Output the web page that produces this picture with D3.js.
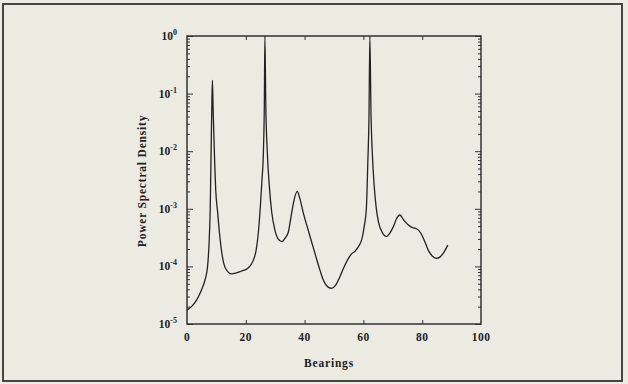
<!DOCTYPE html>
<html>
<head>
<meta charset="utf-8">
<style>
  html, body { margin: 0; padding: 0; background: #ecebe1; }
  svg { display: block; }
  text { font-family: "Liberation Serif", "DejaVu Serif", serif; font-weight: bold; fill: #222; }
</style>
</head>
<body>
<div id="container"></div>
<script src="https://cdn.jsdelivr.net/npm/d3@7"></script>
<script>
    // Data
    let bearings = [
        0, 1.5, 3.3, 5, 6.1, 7.0, 7.5, 7.9, 8.2, 8.45, 8.65, 8.9, 9.3, 9.8, 10.4, 11.0, 11.8, 13, 15.2, 18,
        20.9, 22.5, 23.5, 24.3, 24.9, 25.5, 26.0, 26.3, 26.5, 26.8, 27.3, 28.0, 28.8, 29.8, 31, 32.2, 33.5, 34.5, 35.5, 36.2,
        37.5, 38.4, 39.6, 40.7, 41.5, 43.5, 45.2, 46.4, 48, 49.2, 50.5, 52, 53.5, 54.9, 56, 57.1, 58.5, 59.4, 60.3, 61.0,
        61.5, 61.9, 62.2, 62.6, 63.0, 63.6, 64.4, 65.1, 66.5, 67.9, 69, 70.2, 71.3, 72.4, 73.8, 75.3, 76.7, 78.1, 79.5, 80.5,
        82.1, 83.5, 84.9, 86, 87.2, 88.7
    ];
    let psd = [
        1.74e-5, 2.0e-5, 2.63e-5, 3.98e-5, 5.75e-5, 1.0e-4, 2.5e-4, 1.0e-3, 0.01, 0.063, 0.17, 0.05, 0.01, 2.0e-3, 8.9e-4, 4.0e-4, 1.78e-4, 9.5e-5, 7.4e-5, 8.1e-5,
        9.5e-5, 1.26e-4, 1.9e-4, 4.0e-4, 1.0e-3, 3.16e-3, 0.01, 0.063, 1, 0.063, 0.01, 2.5e-3, 8.9e-4, 4.5e-4, 3.0e-4, 2.7e-4, 3.16e-4, 4.0e-4, 7.9e-4, 1.26e-3,
        2.0e-3, 1.5e-3, 8.3e-4, 5.25e-4, 3.8e-4, 1.7e-4, 8.7e-5, 5.75e-5, 4.37e-5, 4.17e-5, 4.68e-5, 6.6e-5, 1.0e-4, 1.38e-4, 1.66e-4, 1.82e-4, 2.29e-4, 2.88e-4, 5.0e-4, 1.0e-3,
        6.3e-3, 0.04, 1, 0.04, 0.01, 2.8e-3, 1.0e-3, 6.0e-4, 3.8e-4, 3.3e-4, 3.8e-4, 4.9e-4, 6.8e-4, 7.8e-4, 6.3e-4, 5.25e-4, 4.7e-4, 4.5e-4, 3.8e-4, 3.0e-4,
        1.9e-4, 1.5e-4, 1.38e-4, 1.45e-4, 1.7e-4, 2.34e-4
    ];
    let xTicks = [0, 20, 40, 60, 80, 100];
    let yExponents = [0, -1, -2, -3, -4, -5];

    // Set up SVG
    let W = 628, H = 384;
    let margin = { top: 36, right: 147, bottom: 60, left: 187 };
    let width = W - margin.left - margin.right;
    let height = H - margin.top - margin.bottom;

    let root = d3.select("#container")
        .append("svg")
        .attr("width", W)
        .attr("height", H);

    // outer frame
    root.append("rect")
        .attr("x", 3).attr("y", 4)
        .attr("width", 619).attr("height", 377)
        .attr("fill", "none")
        .attr("stroke", "#333")
        .attr("stroke-width", 1.8);

    let svg = root.append("g")
        .attr("transform", `translate(${margin.left}, ${margin.top})`);

    let x = d3.scaleLinear().domain([0, 100]).range([0, width]);
    let y = d3.scaleLog().domain([1e-5, 1]).range([height, 0]);

    // minor / major log ticks
    let allY = y.ticks();
    let majorY = yExponents.map((e) => Math.pow(10, e));
    let minorY = allY.filter((v) => !majorY.some((m) => Math.abs(m - v) / v < 1e-6));

    function styleAxis(g) {
        g.select(".domain").remove();
        g.selectAll("line").attr("stroke", "#333").attr("stroke-width", 1);
        g.selectAll("text").remove();
    }

    svg.append("g").call(d3.axisLeft(y).tickValues(minorY).tickSize(-3)).call(styleAxis);
    svg.append("g").call(d3.axisLeft(y).tickValues(majorY).tickSize(-6)).call(styleAxis);
    svg.append("g").attr("transform", `translate(${width},0)`)
        .call(d3.axisRight(y).tickValues(minorY).tickSize(-3)).call(styleAxis);
    svg.append("g").attr("transform", `translate(${width},0)`)
        .call(d3.axisRight(y).tickValues(majorY).tickSize(-6)).call(styleAxis);
    svg.append("g").attr("transform", `translate(0,${height})`)
        .call(d3.axisBottom(x).tickValues([20, 40, 60, 80]).tickSize(-4)).call(styleAxis);
    svg.append("g")
        .call(d3.axisTop(x).tickValues([20, 40, 60, 80]).tickSize(-4)).call(styleAxis);

    // plot box
    svg.append("rect")
        .attr("width", width).attr("height", height)
        .attr("fill", "none")
        .attr("stroke", "#333")
        .attr("stroke-width", 1.5);

    // curve
    svg.append("clipPath").attr("id", "clip")
        .append("rect").attr("width", width).attr("height", height);

    let line = d3.line()
        .x((d, i) => x(bearings[i]))
        .y((d) => y(d))
        .curve(d3.curveMonotoneX);

    svg.append("path")
        .datum(psd)
        .attr("clip-path", "url(#clip)")
        .attr("fill", "none")
        .attr("stroke", "#222")
        .attr("stroke-width", 1.3)
        .attr("d", line);

    // x tick labels
    svg.selectAll(".xl")
        .data(xTicks)
        .enter()
        .append("text")
        .attr("x", (d) => x(d))
        .attr("y", height + 17)
        .attr("text-anchor", "middle")
        .style("font-size", "11.5px")
        .style("letter-spacing", "0.5px")
        .text((d) => d);

    // y tick labels 10^n
    let yl = svg.selectAll(".yl")
        .data(yExponents)
        .enter()
        .append("text")
        .attr("x", -10)
        .attr("y", (d) => y(Math.pow(10, d)) + 4)
        .attr("text-anchor", "end")
        .style("font-size", "11.5px");
    yl.append("tspan").text("10");
    yl.append("tspan")
        .attr("dy", -5)
        .style("font-size", "8px")
        .text((d) => d === 0 ? "0" : "-" + Math.abs(d));

    // axis titles
    svg.append("text")
        .attr("x", width / 2 - 5)
        .attr("y", height + 43)
        .attr("text-anchor", "middle")
        .style("font-size", "11.5px")
        .style("letter-spacing", "0.8px")
        .text("Bearings");

    svg.append("text")
        .attr("transform", `translate(-41, ${height / 2 + 1}) rotate(-90)`)
        .attr("text-anchor", "middle")
        .style("font-size", "11.5px")
        .style("letter-spacing", "0.8px")
        .text("Power Spectral Density");
</script>
</body>
</html>
